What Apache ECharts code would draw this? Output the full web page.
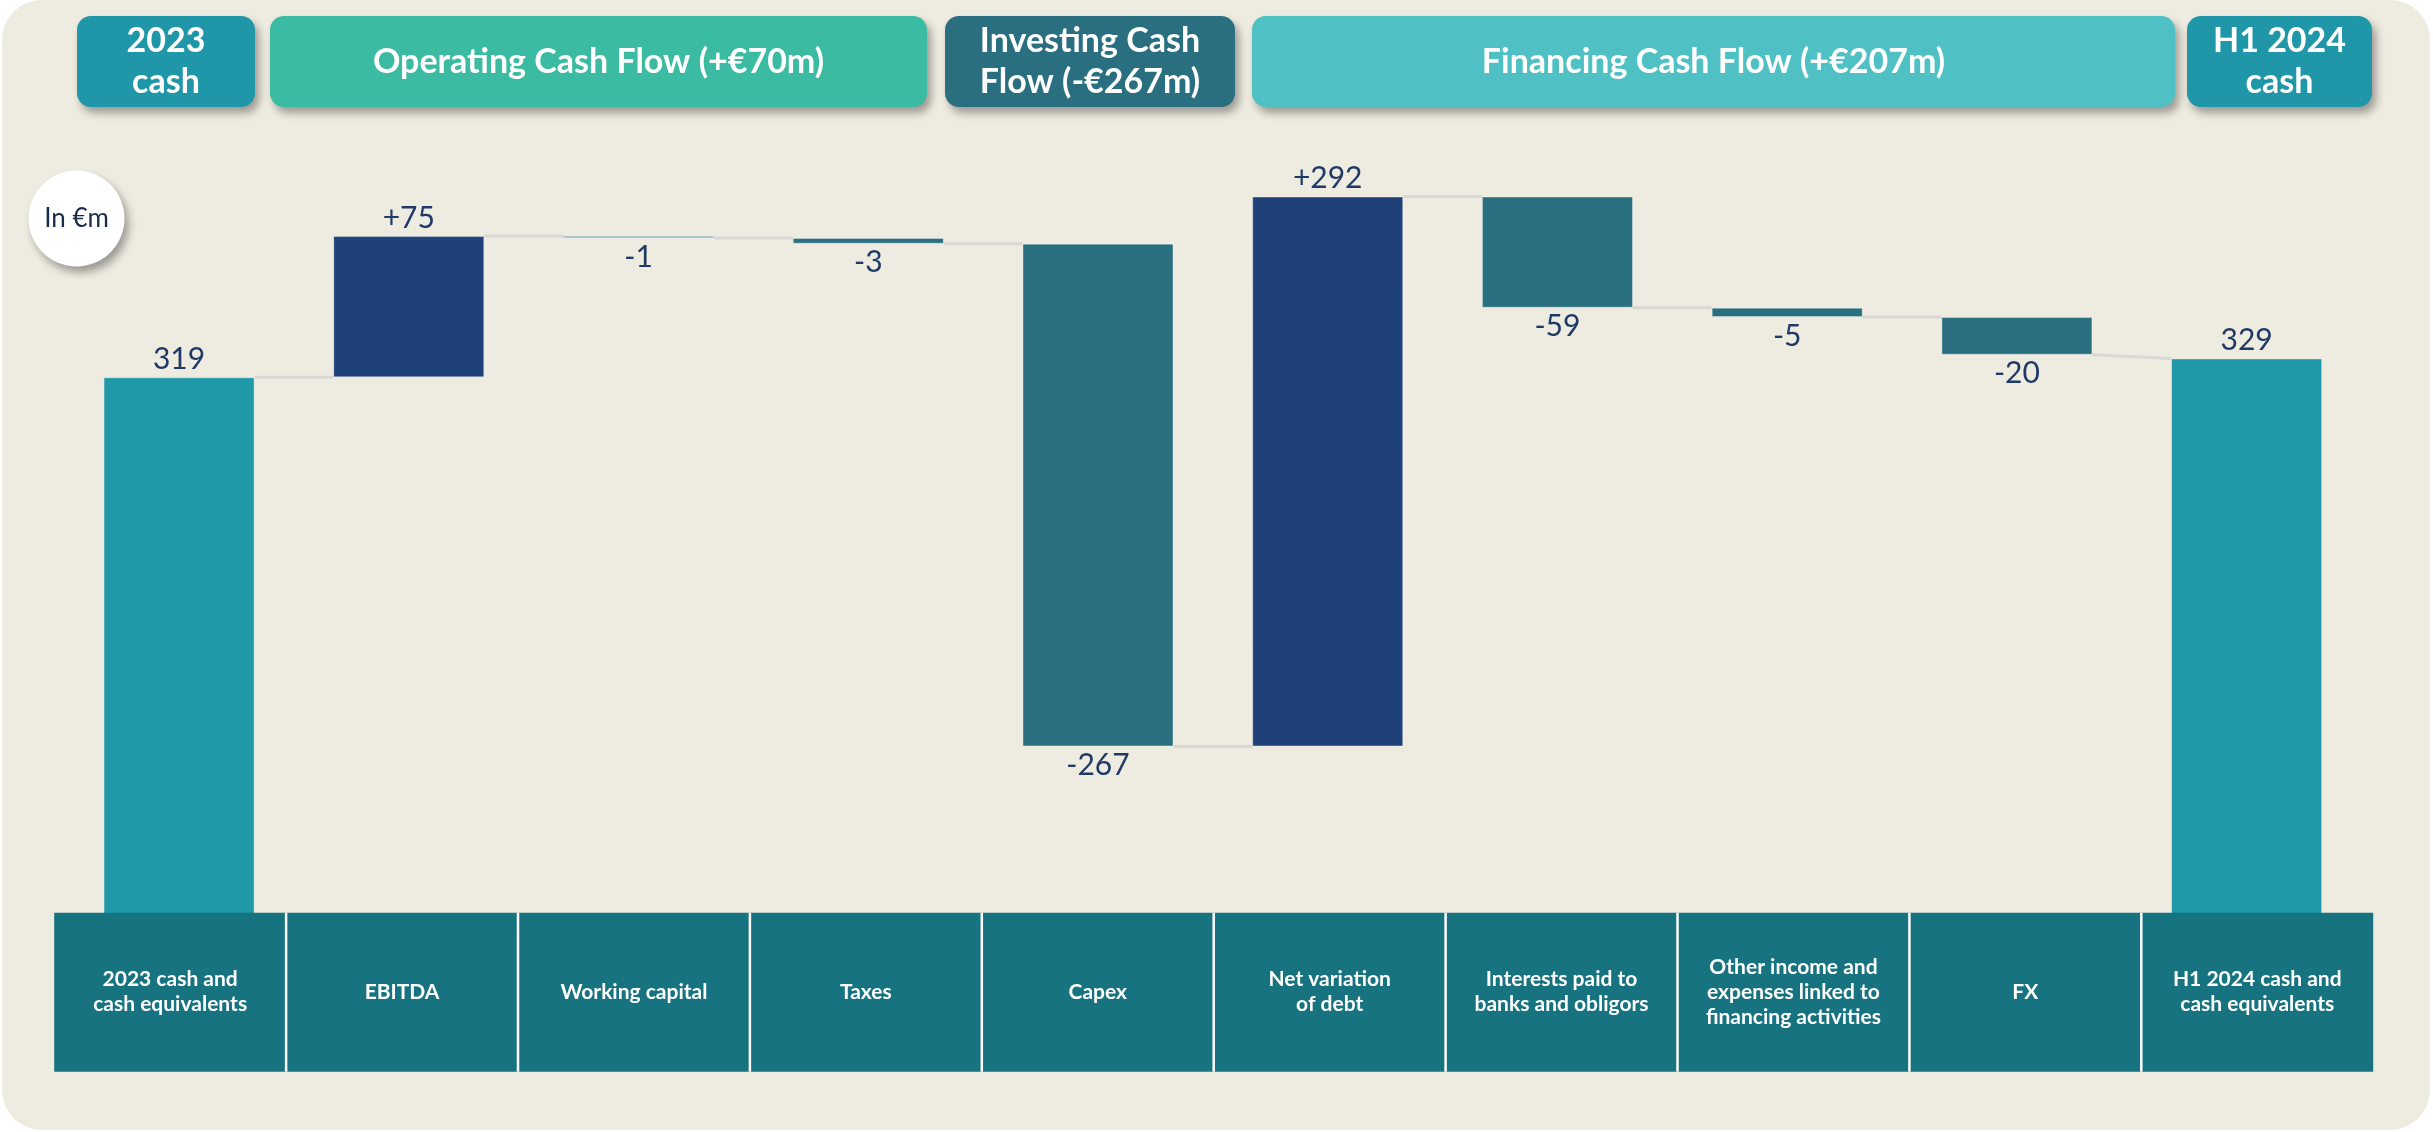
<!DOCTYPE html>
<html><head><meta charset="utf-8">
<script src="https://cdn.jsdelivr.net/npm/echarts@6/dist/echarts.min.js"></script>
<style>html,body{margin:0;padding:0;background:#fff;}#c{width:2433px;height:1132px;}</style>
</head><body><div id="c"></div>
<script>
// ---- data ----
const categories = ["2023 cash and\ncash equivalents","EBITDA","Working capital","Taxes","Capex","Net variation\nof debt","Interests paid to\nbanks and obligors","Other income and\nexpenses linked to\nfinancing activities","FX","H1 2024 cash and\ncash equivalents"];
const values = [319, 75, -1, -3, -267, 292, -59, -5, -20, 329];
const isTotal = [true, false, false, false, false, false, false, false, false, true];
const valueLabels = ["319","+75","-1","-3","-267","+292","-59","-5","-20","329"];
const headerLabels = ["2023\ncash","Operating Cash Flow (+€70m)","Investing Cash\nFlow (-€267m)","Financing Cash Flow (+€207m)","H1 2024\ncash"];
const unitLabel = "In €m";

// ---- derived waterfall ----
let running = 0;
const base = [], height = [], startLvl = [], endLvl = [];
values.forEach((v, i) => {
  if (isTotal[i]) { base.push(0); height.push(v); startLvl.push(v); endLvl.push(v); running = v; }
  else { const s = running, e = running + v; base.push(Math.min(s, e)); height.push(Math.abs(v)); startLvl.push(s); endLvl.push(e); running = e; }
});
const connectors = [];
for (let i = 0; i < values.length - 1; i++) connectors.push([i, endLvl[i], startLvl[i + 1]]);

// ---- styles ----
const C_TOTAL = '#1F98A8', C_POS = '#1F4179', C_NEG = '#296F80';
const LABEL_COLOR = '#1F3A66';
const FONT = 'Lato, "Open Sans", sans-serif';
const barWidth = 151;

const valueData = height.map((h, i) => {
  const col = isTotal[i] ? C_TOTAL : (values[i] >= 0 ? C_POS : C_NEG);
  const up = isTotal[i] || values[i] >= 0;
  return {
    value: h,
    itemStyle: { color: col, borderColor: 'rgba(255,255,255,0.35)', borderWidth: 1 },
    label: { show: true, position: up ? 'top' : 'bottom', distance: up ? 3 : 4, formatter: valueLabels[i] }
  };
});

// ---- graphic: panel, headers, unit bubble, table ----
const graphics = [];
graphics.push({ type: 'rect', z: -10, shape: { x: 2, y: 0, width: 2428, height: 1130, r: 40 }, style: { fill: '#EEEBE0' } });

const headerBoxes = [[77, 255], [270, 927], [945, 1235], [1252, 2175], [2187, 2372]];
const headerColors = ['#1F97A8', '#3BBBA2', '#296F80', '#4FC1C4', '#1F97A8'];
headerLabels.forEach((t, i) => {
  const [x0, x1] = headerBoxes[i];
  graphics.push({ type: 'rect', z: 20, shape: { x: x0, y: 16, width: x1 - x0, height: 91, r: 14 },
    style: { fill: headerColors[i], shadowBlur: 8, shadowOffsetX: 4, shadowOffsetY: 6, shadowColor: 'rgba(0,0,0,0.35)' } });
  graphics.push({ type: 'text', z: 21, style: { text: t, x: (x0 + x1) / 2, y: 62, align: 'center', verticalAlign: 'middle',
    font: 'bold 34px ' + FONT, lineHeight: 41, fill: '#ffffff' } });
});

graphics.push({ type: 'circle', z: 20, shape: { cx: 76.5, cy: 218.5, r: 48 },
  style: { fill: '#ffffff', shadowBlur: 8, shadowOffsetX: 4, shadowOffsetY: 6, shadowColor: 'rgba(0,0,0,0.35)' } });
graphics.push({ type: 'text', z: 21, style: { text: unitLabel, x: 76.5, y: 219, align: 'center', verticalAlign: 'middle',
  font: '26px ' + FONT, fill: '#1A2A4A' } });

const tblLeft = 54.2, tblTop = 912.7, colW = 231.9, tblH = 159;
graphics.push({ type: 'rect', z: 30, shape: { x: tblLeft, y: tblTop, width: colW * categories.length, height: tblH }, style: { fill: '#177380' } });
categories.forEach((c, i) => {
  if (i > 0) graphics.push({ type: 'line', z: 31, shape: { x1: tblLeft + colW * i, y1: tblTop, x2: tblLeft + colW * i, y2: tblTop + tblH },
    style: { stroke: '#ffffff', lineWidth: 2.5 } });
  graphics.push({ type: 'text', z: 32, style: { text: c, x: tblLeft + colW * (i + 0.5), y: tblTop + tblH / 2, align: 'center', verticalAlign: 'middle',
    font: 'bold 21px ' + FONT, lineHeight: 25, fill: '#ffffff' } });
});

const chart = echarts.init(document.getElementById('c'), null, { renderer: 'canvas' });
chart.setOption({
  backgroundColor: '#ffffff',
  animation: false,
  grid: { left: 64.2, right: 71.5, top: 36.5, bottom: 154 },
  xAxis: { type: 'category', data: categories, show: false },
  yAxis: { type: 'value', min: 0, max: 500, show: false },
  graphic: { elements: graphics },
  series: [
    { type: 'bar', stack: 'w', barWidth: barWidth, silent: true, itemStyle: { color: 'rgba(0,0,0,0)' }, data: base, z: 2 },
    { type: 'bar', stack: 'w', barWidth: barWidth, data: valueData, z: 3,
      label: { color: LABEL_COLOR, fontFamily: FONT, fontSize: 30 } },
    { type: 'custom', z: 1, data: connectors, encode: { x: 0, y: [1, 2] },
      renderItem: (params, api) => {
        const i = api.value(0);
        const p0 = api.coord([i, api.value(1)]);
        const p1 = api.coord([i + 1, api.value(2)]);
        const hw = barWidth / 2;
        return { type: 'line', shape: { x1: p0[0] + hw, y1: p0[1], x2: p1[0] - hw, y2: p1[1] },
          style: { stroke: '#D9D8D4', lineWidth: 3 } };
      } }
  ]
});
</script></body></html>
